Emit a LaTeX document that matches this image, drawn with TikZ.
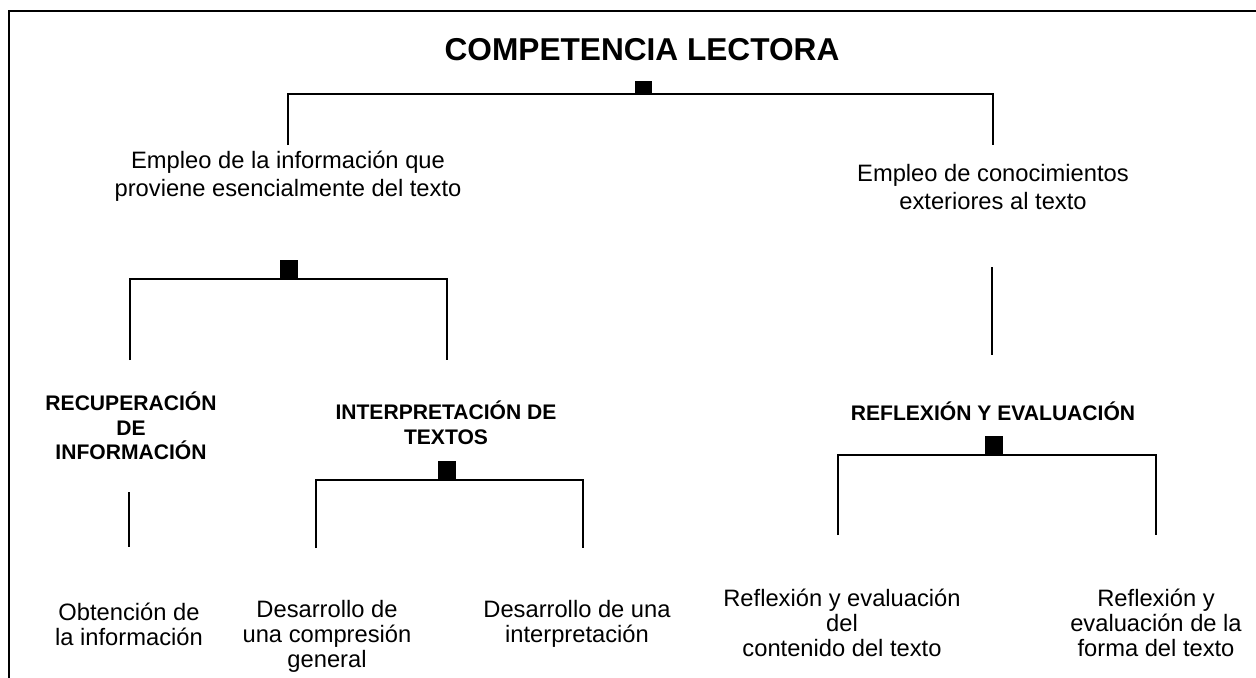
\documentclass[tikz,border=0pt]{standalone}
\usepackage{fontspec}
\setmainfont{Liberation Sans}
\begin{document}
\begin{tikzpicture}[x=0.02cm,y=-0.02cm,
  txt/.style={font=\fontsize{13.5}{14.2}\selectfont, align=center, inner sep=0pt},
  toptxt/.style={font=\fontsize{13.5}{16}\selectfont, align=center, inner sep=0pt},
  lbl/.style={font=\bfseries\fontsize{12}{14}\selectfont, align=center, inner sep=0pt},
  ttl/.style={font=\bfseries\fontsize{18}{22}\selectfont, inner sep=0pt},
  ln/.style={line width=1.6pt, line cap=butt, line join=miter},
  sq/.style={fill=black}]
\useasboundingbox (0,0) rectangle (1256,677);
% frame
\draw[ln] (9,680) -- (9,11) -- (1260,11);
% title
\node[ttl] (title) at (642,50) {COMPETENCIA LECTORA};
% level 1 bracket
\coordinate (b1l) at (288,145);
\coordinate (b1r) at (993,145);
\draw[ln] (b1l) -- (288,94) -- (993,94) -- (b1r);
\fill[sq] (635,81) rectangle (652,94);
\node[toptxt] (emp1) at (288,176) {Empleo de la información que\\proviene esencialmente del texto};
\node[toptxt] (emp2) at (993,187) {Empleo de conocimientos\\exteriores al texto};
% level 2 left bracket
\coordinate (b2l) at (130,360);
\coordinate (b2r) at (447,360);
\draw[ln] (b2l) -- (130,279) -- (447,279) -- (b2r);
\fill[sq] (280,260) rectangle (298,279);
% level 2 right line
\coordinate (r2t) at (992,267);
\coordinate (r2b) at (992,355);
\draw[ln] (r2t) -- (r2b);
% section labels
\node[lbl] (rec) at (131,426) {RECUPERACIÓN\\DE\\INFORMACIÓN};
\node[lbl] (int) at (446,423) {INTERPRETACIÓN DE\\TEXTOS};
\node[lbl] (ref) at (993,411) {REFLEXIÓN Y EVALUACIÓN};
% under rec
\coordinate (r3t) at (129,492);
\coordinate (r3b) at (129,547);
\draw[ln] (r3t) -- (r3b);
% interp bracket
\coordinate (b3l) at (316,548);
\coordinate (b3r) at (583,548);
\draw[ln] (b3l) -- (316,480) -- (583,480) -- (b3r);
\fill[sq] (438,461) rectangle (456,480);
% refl bracket
\coordinate (b4l) at (838,535);
\coordinate (b4r) at (1156,535);
\draw[ln] (b4l) -- (838,455) -- (1156,455) -- (b4r);
\fill[sq] (985,436) rectangle (1003,455);
% bottom texts
\node[txt] (obt) at (129,624) {Obtención de\\la información};
\node[txt] (des1) at (327,636) {Desarrollo de\\una compresión\\general};
\node[txt] (des2) at (577,624) {Desarrollo de una\\interpretación};
\node[txt] (rf1) at (842,623) {Reflexión y evaluación\\del\\contenido del texto};
\node[txt] (rf2) at (1156,623) {Reflexión y\\evaluación de la\\forma del texto};
\end{tikzpicture}
\end{document}
